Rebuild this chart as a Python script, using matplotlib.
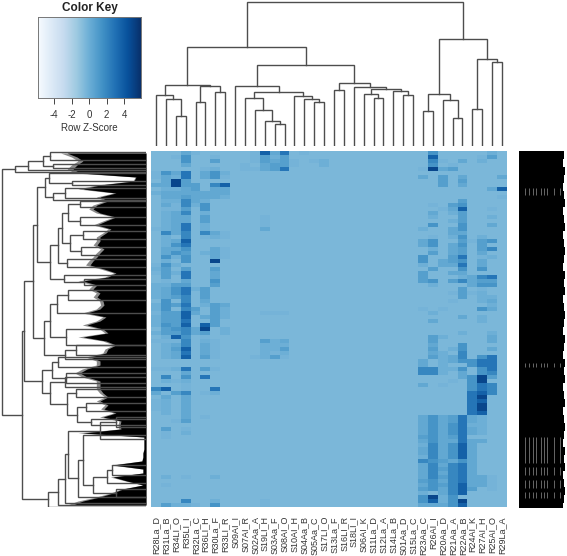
import matplotlib
matplotlib.use('Agg')
import matplotlib.pyplot as plt
import numpy as np

plt.rcParams['font.family'] = ['Liberation Sans', 'DejaVu Sans']

W, H = 567, 556

col_labels = ['R28La_D', 'R31La_B', 'R34LI_O', 'R35LI_I', 'R32La_C', 'R36LI_H', 'R30La_F', 'R33LI_R', 'S09AI_I',
              'S07AI_R', 'S02Aa_A', 'S19LI_H', 'S03Aa_F', 'S08AI_O', 'S10AI_H', 'S04Aa_B', 'S05Aa_C', 'S17LI_O',
              'S13La_F', 'S16LI_R', 'S18LI_I', 'S06AI_K', 'S11La_D', 'S12La_A', 'S14La_B', 'S01Aa_D', 'S15La_C',
              'R23Aa_C', 'R26AI_I', 'R20Aa_D', 'R21Aa_A', 'R22Aa_B', 'R24AI_K', 'R27AI_H', 'R25AI_O', 'R29La_A']

# z-score of each shade level used in the columns below
level_z = [-0.45, -0.25, 0.0, 0.35, 0.8, 1.35, 2.0, 2.8, 3.7, 4.9]

# shade level per row (89 rows, groups of ten), columns not listed stay at level 0
col_levels = {
    0: '0000011030 2000000001 0000000012 1002222022 1222020100 0000100006 3011100000',
    1: '0000053332 3323122222 6222335254 4412333555 4445442122 2200106208 0322220004 1100000000 020100004',
    2: '0100032992 3321133333 3035352020 2004554040 4444548134 3300200100 4000000100 0000000000 000000002',
    3: '3553077443 3466463377 6687545504 7734776676 8878665668 7800735211 6333333401 2000000000 010000062',
    4: '1000000044 3332000000 0000000000 0000200004 3000330000 0000000000 0000000000 0000000000 000000001',
    5: '0000133000 3325524422 6100020000 0000444320 0308941233 3400407000 1000001000',
    6: '0140255063 3300000000 3200333904 3354000044 4444000111 1100100007 2000000000 0000000000 020000025',
    7: '0000021083 3200000000 1100111000 0000000032 2200220000',
    9: '0001100000',
    10: '1110100000 0000000000 0000000000 0000000000 0000000000 0100000000',
    11: '8443300000 0000001113 0000000000 0000000000 1000000422 2200000000 0000000000 0000000000 000000011',
    12: '3234400000 0000000000 0000000000 0000000000 1000000222 1400000000',
    13: '7444700000 0000000000 0000000000 0000000000 1000000324 2100000000',
    14: '0011000000',
    15: '1000000000',
    16: '0010000000',
    17: '0022000000',
    27: '0000103000 0000000002 0033005520 4440000001 0000000000 0033660030 0000003333 3432332633 334342553',
    28: '5865900000 0001032050 0155240004 0052000000 2030004434 3400660000 0000005555 5556666566 665550983',
    29: '0010304440 0000100000 0000000330 0000000001 0000002000 2222220010 0000003333 3333333434 343433223',
    30: '0001400000 0004320203 3203334430 3040010100 0000000002 0330200100 0000004455 5435555366 666666555',
    31: '0030003430 0045844455 3545447575 3260444000 0300020055 6650533000 0000007777 7778888577 777888098',
    32: '0000000000 0000000000 0010000000 0333010000 0000000000 0055005555 7777773323 3033333333 333340000',
    33: '0120000000 0000000000 0244431335 0645122205 0220000000 0577559977 8989982222 2030000000 033300000',
    34: '2400000003 0000102030 0050602000 0745002323 0000023303 0777764066 6000000000 0000000000 011110000',
    35: '0000003008 0100000000',
}

# row dendrogram: (height, child, child), a plain number is a row position
row_tree = (144.5,
            (131, (118, (103, (96, 1, 9), (93, 13, 17)), 19), 21),
            (124,
             (122,
              (113,
               (109,
                (101, (97, 22, (74, 30, 34)), (93, (81, 37, 47), 49)),
                (96,
                 (88,
                  (84, (78, (66, 50, 56), (66, 66, 74)), (76, (63, 80, 88), (65, 96, 104))),
                  (79, 108, 116)),
                 (82, 124, (62, 128, 134)))),
               (102,
                (96, (89, (78, 139, 149), 162), (80, 178, 194)),
                (81, (70, 194, 204), 208))),
              (104,
               (94, (88, 206, 216), (80, 222, 232)),
               (96, (81, 226, 236), (79, (70, 238, 246), (69, (60, 252, 260), (55, 268, 274)))))),
             (98,
              (88,
               (81,
                (78,
                 (46, (30, 266, 276), 288),
                 (68, (63, 284, (53, (39, (34, 314, 324), 332), (30, 338, 346))), 346)),
                352),
               354),
              355.5)))

# column dendrogram: (height, child, child), a plain number is a column index
col_tree = (144.5,
            (99,
             (61,
              (51, 0, (46.5, 1, (29.5, 2, 3))),
              (59.5, (44, 4, 5), (54, 6, 7))),
             (80.5,
              (60, 8, (54, (48, 9, (36, 10, (25, 11, (22, 12, 13)))), (49.5, 14, (46.5, 15, (44, 16, 17))))),
              (62.5, (55.5, 18, 19), (59, 20, (57, (52, 21, (47.5, 22, 23)), (54.5, 24, (50.5, 25, 26))))))),
            (107,
             (51.5, (35, 27, 28), (46, 29, (27.5, 30, 31))),
             (87, (36.5, 32, 33), (83.5, 34, 35))))

# how far the solid leaf mass of the row dendrogram reaches, per row
leaf_depth = [79, 69, 63, 69, 73, 66, 10, 12, 46, 63, 30, 46, 38, 49, 53, 46, 30, 40, 49, 35, 40, 46, 46, 49, 42, 46, 49,
              53, 56, 42, 30, 38, 63, 49, 53, 46, 49, 43, 42, 46, 59, 40, 46, 59, 43, 38, 63, 40, 30, 38, 40, 56, 46,
              46, 59, 66, 59, 46, 46, 46, 43, 38, 46, 38, 42, 30, 43, 25, 26, 25, 63, 2, 2, 2, 2, 3, 3, 4, 33, 3, 3,
              33, 19, 3, 23, 33, 46, 63, 73]

# row label smear on the right, width per block of rows
label_width = [45, 44, 46, 45, 44, 45, 46, 44, 45, 46, 44, 45, 46, 45, 44, 46, 45, 46, 44, 45, 46, 45, 44, 46, 45, 44,
               46, 45, 46, 44, 45, 46, 44, 45, 46, 45, 44, 46, 45, 46, 44, 45, 46, 45, 44]
streak_pos = [6, 10, 14, 17, 22, 25, 28, 35, 41]
streak_start = [37, 212, 286, 316, 329, 341]
streak_end = [44, 216, 312, 324, 337, 347]

key_ticks = [-4, -2, 0, 2, 4]
key_range = (-5.83, 5.94)

n_rows = 89
n_cols = len(col_labels)
levels = np.zeros((n_rows, n_cols), dtype=int)
for c, text in col_levels.items():
    text = text.replace(' ', '')
    levels[:len(text), c] = [int(v) for v in text]
heat = np.array(level_z)[levels]


def axes_px(x0, y0, x1, y1):
    return fig.add_axes([x0 / W, 1 - y1 / H, (x1 - x0) / W, (y1 - y0) / H])


def draw_tree(ax, node, horizontal):
    # returns (position, height) of the node
    if not isinstance(node, tuple):
        return node, 0
    h, a, b = node
    pa, ha = draw_tree(ax, a, horizontal)
    pb, hb = draw_tree(ax, b, horizontal)
    xs = [ha, h, h, hb]
    ys = [pa, pa, pb, pb]
    if horizontal:
        ax.plot(xs, ys, color='#4d4d4d', lw=1.0, solid_joinstyle='miter')
    else:
        ax.plot(ys, xs, color='#4d4d4d', lw=1.0, solid_joinstyle='miter')
    return (pa + pb) / 2, h


fig = plt.figure(figsize=(W / 100, H / 100), dpi=100)

# heatmap
ax = axes_px(151, 151, 507, 507)
ax.imshow(heat, cmap='Blues', vmin=key_range[0], vmax=key_range[1], aspect='auto', interpolation='nearest',
          extent=(-0.5, n_cols - 0.5, n_rows, 0))
ax.set_yticks([])
ax.set_xticks(range(n_cols))
ax.set_xticklabels(col_labels, rotation=90, fontsize=6.5, color='#333333')
ax.tick_params(axis='x', length=0, pad=6.5)
for s in ax.spines.values():
    s.set_visible(False)

# column dendrogram
ax = axes_px(151, 0, 507, 146)
draw_tree(ax, col_tree, False)
ax.set_xlim(-0.5, n_cols - 0.5)
ax.set_ylim(0, 146)
ax.axis('off')

# row dendrogram
ax = axes_px(0, 151, 146, 507)
row_pos = np.arange(n_rows) * 4 + 2
depth = np.array(leaf_depth)
ax.fill_betweenx(row_pos, 0, depth * 1.08, color='#8a8a8a', lw=0)
ax.fill_betweenx(row_pos, 0, depth, color='black', lw=0)
draw_tree(ax, row_tree, True)
ax.set_xlim(146, 0)
ax.set_ylim(356, 0)
ax.axis('off')

# row label smear
ax = axes_px(519, 151, 567, 508)
ax.barh(np.arange(len(label_width)) * 8 + 4, label_width, height=8, left=0, color='black', lw=0)
for s0, s1 in zip(streak_start, streak_end):
    ax.vlines(streak_pos, s0, s1, color='#777777', lw=0.6)
ax.set_xlim(0, 48)
ax.set_ylim(357, 0)
ax.axis('off')

# color key
ax = axes_px(38, 17, 141, 98)
ramp = np.linspace(key_range[0], key_range[1], 256).reshape(1, -1)
ax.imshow(ramp, cmap='Blues', vmin=key_range[0], vmax=key_range[1], aspect='auto',
          extent=(key_range[0], key_range[1], 0, 1))
ax.set_yticks([])
ax.set_xticks(key_ticks)
ax.set_xticklabels([str(t) for t in key_ticks], fontsize=7, color='#333333')
ax.tick_params(axis='x', length=4, width=0.7, color='#444444', pad=5)
ax.set_xlabel('Row Z-Score', fontsize=7, color='#333333', labelpad=2)
ax.set_title('Color Key', fontsize=8.5, fontweight='bold', color='#222222', pad=4)
for s in ax.spines.values():
    s.set_color('#777777')
    s.set_linewidth(0.7)

fig.savefig('out.png', dpi=100)
